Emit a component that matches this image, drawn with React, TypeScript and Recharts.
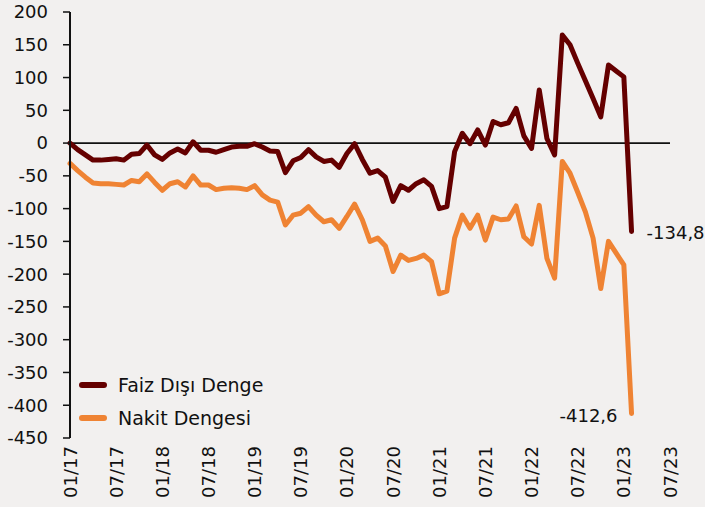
import React from 'react';
import { LineChart, Line, XAxis, YAxis, ReferenceLine, Legend } from 'recharts';

// Monthly series, 01/17 .. 02/23 (billion TL)
const faizDisiDenge: number[] = [
  0, -10, -18, -26, -26, -25, -24, -26, -17, -16,
  -3, -18, -25, -15, -9, -15, 2, -11, -11, -14,
  -10, -6, -5, -5, -1, -6, -12, -13, -45, -27,
  -22, -10, -21, -28, -26, -37, -16, -1, -25, -46,
  -42, -52, -89, -65, -72, -62, -56, -66, -100, -97,
  -13, 15, -1, 20, -3, 33, 28, 31, 53, 11,
  -8, 81, 7, -18, 165, 150, 122, 95, 68, 40,
  119, 110, 101, -134.8,
];

const nakitDengesi: number[] = [
  -31, -42, -52, -61, -62, -62, -63, -64, -57, -59,
  -47, -60, -72, -62, -59, -67, -50, -64, -64, -71,
  -69, -68, -69, -71, -65, -79, -87, -90, -125, -110,
  -107, -97, -110, -120, -117, -130, -112, -93, -117, -150,
  -145, -157, -196, -171, -179, -176, -171, -181, -230, -226,
  -145, -110, -130, -110, -148, -113, -117, -116, -96, -143,
  -154, -95, -176, -206, -28, -46, -75, -105, -145, -222,
  -150, -168, -186, -412.6,
];

const xTickLabels: string[] = [
  '01/17', '07/17', '01/18', '07/18', '01/19', '07/19', '01/20',
  '07/20', '01/21', '07/21', '01/22', '07/22', '01/23', '07/23',
];

const yTicks: number[] = [200, 150, 100, 50, 0, -50, -100, -150, -200, -250, -300, -350, -400, -450];

const seriesNames = { faiz: 'Faiz Dışı Denge', nakit: 'Nakit Dengesi' };
const lastLabels = { faiz: '-134,8', nakit: '-412,6' };

const DARK = '#650000';
const ORANGE = '#EF8333';
const FONT = '"DejaVu Sans", Verdana, sans-serif';

const monthLabel = (i: number) => {
  const m = (i % 12) + 1;
  const y = 17 + Math.floor(i / 12);
  return `${m < 10 ? '0' + m : m}/${y}`;
};

const data = faizDisiDenge.map((v, i) => ({
  idx: i,
  month: monthLabel(i),
  faiz: v,
  nakit: nakitDengesi[i],
}));

const xTickIdx = xTickLabels.map((_, k) => k * 6);
const lastIdx = data.length - 1;

const XTick = (props: any) => {
  const { x, y, payload } = props;
  const label = xTickLabels[Math.round(payload.value / 6)];
  return (
    <text
      x={x}
      y={y}
      transform={`rotate(-90 ${x} ${y})`}
      textAnchor="end"
      dominantBaseline="central"
      fontFamily={FONT}
      fontSize={18}
      fill="#111"
    >
      {label}
    </text>
  );
};

const renderLegend = () => (
  <div style={{ fontFamily: FONT, fontSize: 19, color: '#111' }}>
    {[
      { name: seriesNames.faiz, color: DARK },
      { name: seriesNames.nakit, color: ORANGE },
    ].map((it) => (
      <div key={it.name} style={{ display: 'flex', alignItems: 'center', height: 33 }}>
        <svg width={41} height={10} style={{ display: 'block' }}>
          <line x1={5} y1={5} x2={27} y2={5} stroke={it.color} strokeWidth={6} strokeLinecap="round" />
        </svg>
        <span style={{ whiteSpace: 'nowrap' }}>{it.name}</span>
      </div>
    ))}
  </div>
);

const endLabel = (text: string, side: 'right' | 'left') => (props: any) => {
  const { x, y, index } = props;
  if (index !== lastIdx) return null;
  return (
    <text
      x={side === 'right' ? x + 15 : x - 14}
      y={side === 'right' ? y + 1 : y + 2}
      textAnchor={side === 'right' ? 'start' : 'end'}
      dominantBaseline="central"
      fontFamily={FONT}
      fontSize={18}
      fill="#111"
    >
      {text}
    </text>
  );
};

export default function App() {
  return (
    <div
      style={{
        position: 'absolute',
        left: 0,
        top: 0,
        width: 705,
        height: 507,
        background: '#F2F0EF',
        overflow: 'hidden',
      }}
    >
      <LineChart width={705} height={507} data={data} margin={{ top: 12, right: 35, bottom: 0, left: 0 }}>
        <XAxis
          dataKey="idx"
          type="number"
          domain={[0, 78]}
          ticks={xTickIdx}
          interval={0}
          axisLine={false}
          tickLine={false}
          height={69}
          tick={<XTick />}
        />
        <YAxis
          type="number"
          domain={[-450, 200]}
          ticks={yTicks}
          interval={0}
          width={70}
          axisLine={{ stroke: '#111', strokeWidth: 2 }}
          tickLine={{ stroke: '#111', strokeWidth: 1.5 }}
          tickSize={7}
          tickMargin={15}
          tick={{ fill: '#111', fontSize: 18, fontFamily: FONT }}
        />
        <ReferenceLine y={0} stroke="#111" strokeWidth={1.6} />
        <Legend
          layout="vertical"
          align="center"
          verticalAlign="middle"
          content={renderLegend}
          wrapperStyle={{ position: 'absolute', left: 77, top: 368, width: 260 }}
        />
        <Line
          dataKey="nakit"
          name={seriesNames.nakit}
          stroke={ORANGE}
          strokeWidth={5}
          dot={false}
          strokeLinejoin="round"
          strokeLinecap="round"
          isAnimationActive={false}
          label={endLabel(lastLabels.nakit, 'left')}
        />
        <Line
          dataKey="faiz"
          name={seriesNames.faiz}
          stroke={DARK}
          strokeWidth={5}
          dot={false}
          strokeLinejoin="round"
          strokeLinecap="round"
          isAnimationActive={false}
          label={endLabel(lastLabels.faiz, 'right')}
        />
      </LineChart>
    </div>
  );
}
